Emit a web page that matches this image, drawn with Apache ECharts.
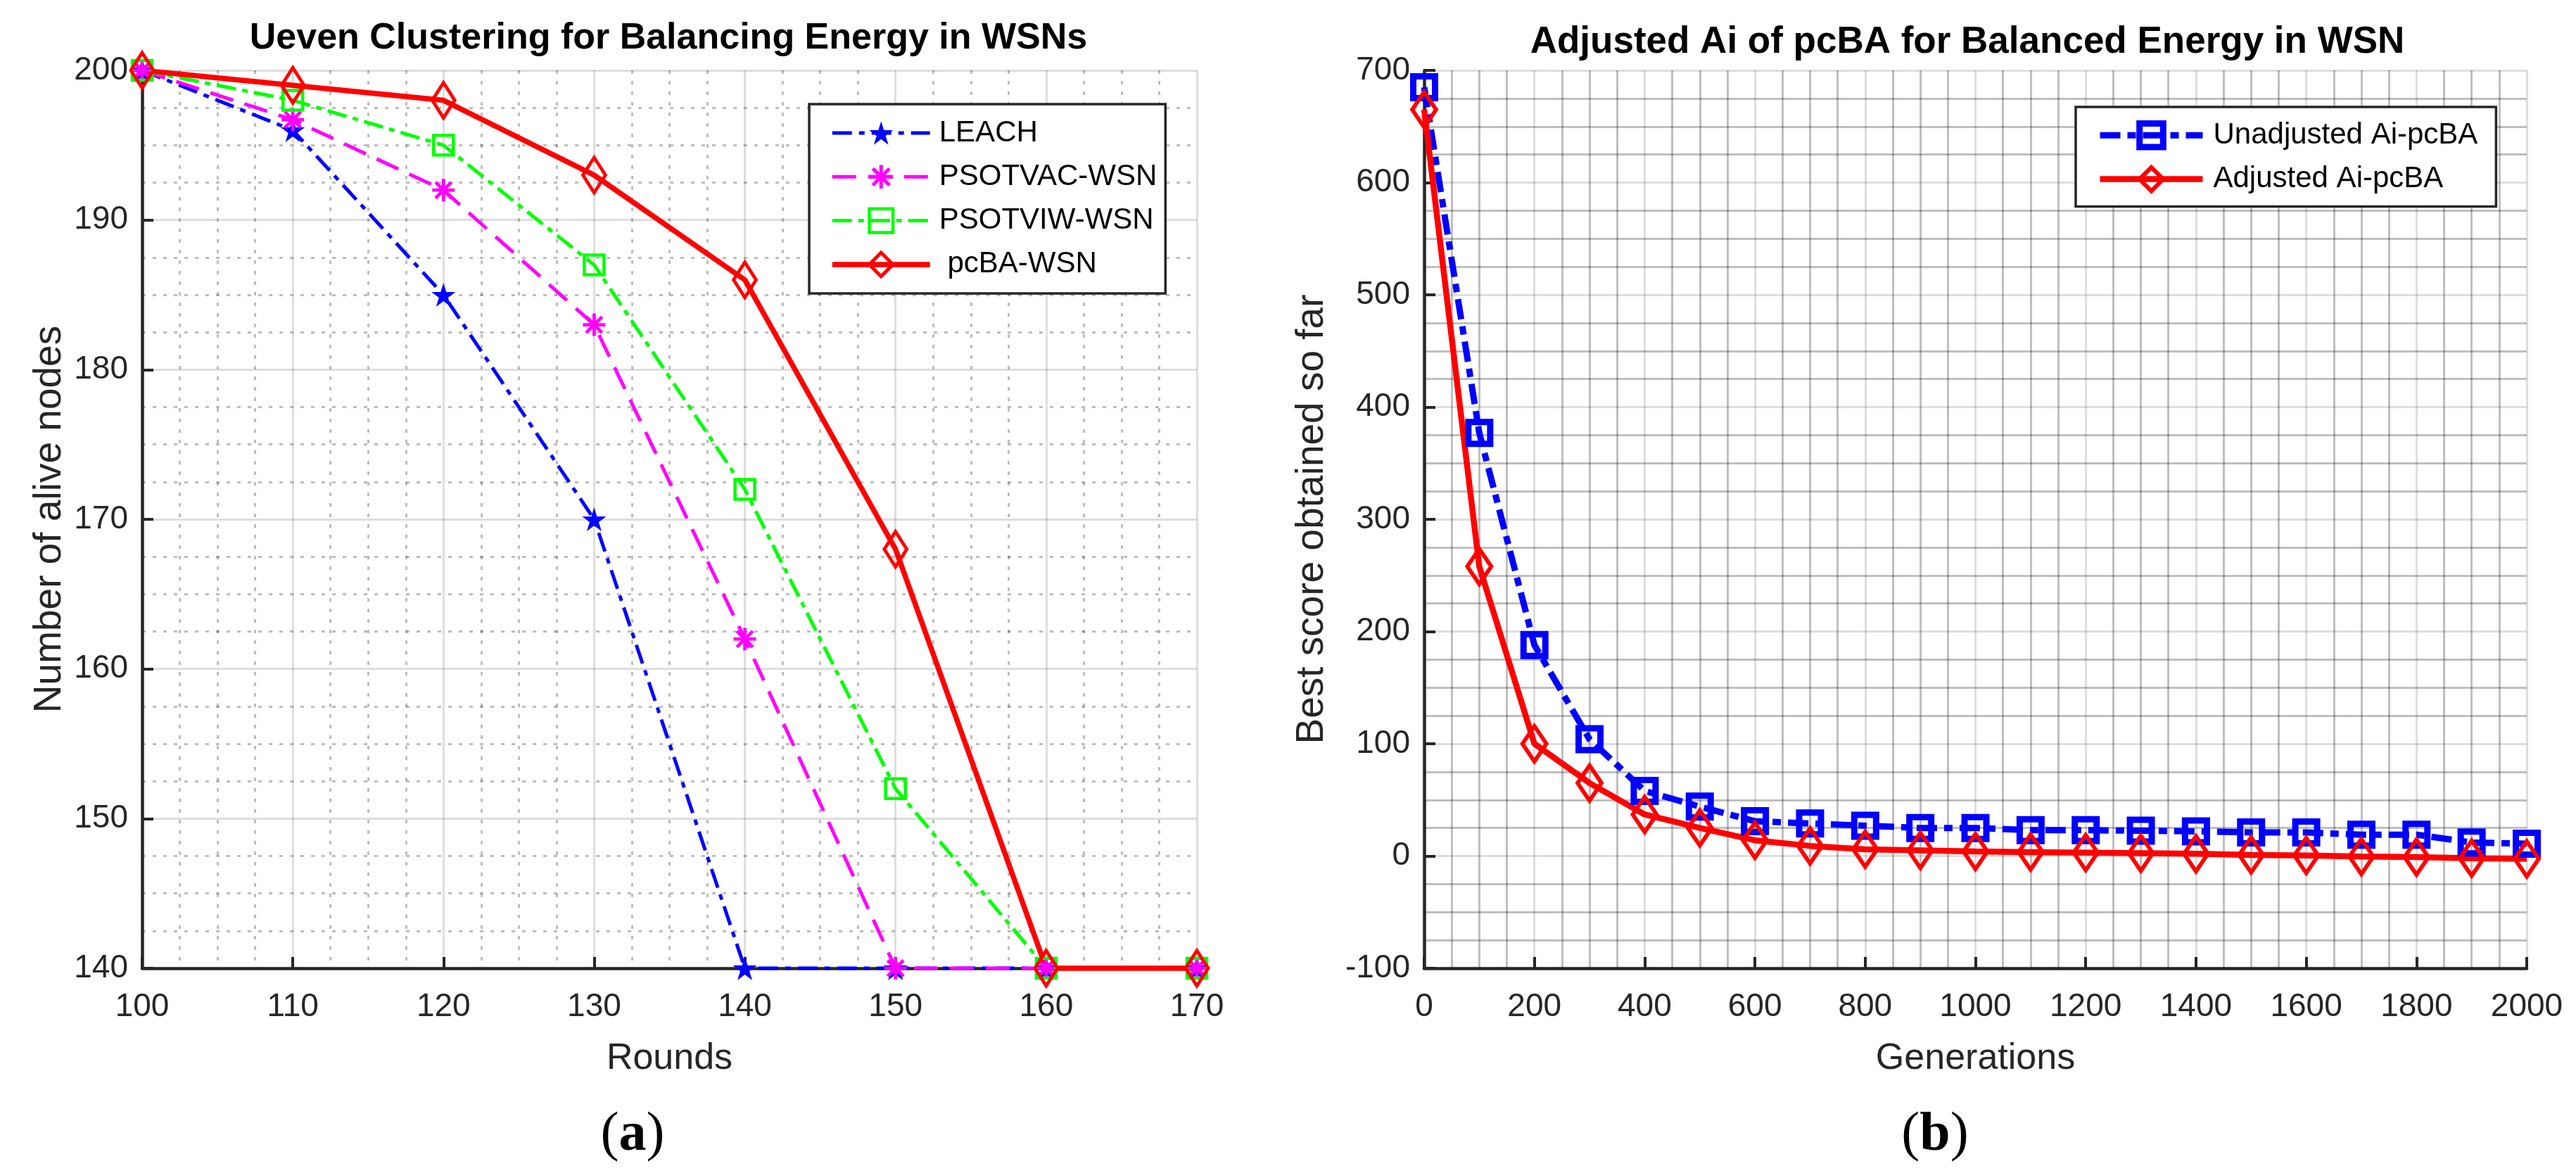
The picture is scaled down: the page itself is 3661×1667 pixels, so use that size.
<!DOCTYPE html>
<html><head><meta charset="utf-8">
<script src="https://cdn.jsdelivr.net/npm/echarts@6/dist/echarts.min.js"></script>
<style>html,body{margin:0;padding:0;background:#fff;}#c{width:3661px;height:1667px;}</style>
</head><body><div id="c"></div>
<script>
// ---- data (a) ----
const rounds = [100, 110, 120, 130, 140, 150, 160, 170];
const leach = [200, 196, 185, 170, 140, 140, 140, 140];
const psotvac = [200, 196.7, 192, 183, 162, 140, 140, 140];
const psotviw = [200, 198, 195, 187, 172, 152, 140, 140];
const pcba = [200, 199, 198, 193, 186, 168, 140, 140];
// ---- data (b) ----
const generations = [0, 100, 200, 300, 400, 500, 600, 700, 800, 900, 1000, 1100, 1200, 1300, 1400, 1500, 1600, 1700, 1800, 1900, 2000];
const unadjusted = [685, 377, 188, 104, 58, 44, 31, 29, 27, 25, 25, 23, 23, 22.5, 22, 21, 21, 19, 19, 12, 11];
const adjusted = [665, 258, 100, 65, 37, 25, 14, 9, 6, 5, 4, 3.5, 3, 2.5, 2, 1, 0.5, -0.5, -1, -2, -2.5];
// ---- texts ----
const titleA = 'Ueven Clustering for Balancing Energy in WSNs';
const titleB = 'Adjusted Ai of pcBA for Balanced Energy in WSN';
const namesA = ['LEACH', 'PSOTVAC-WSN', 'PSOTVIW-WSN', ' pcBA-WSN'];
const namesB = ['Unadjusted Ai-pcBA', 'Adjusted Ai-pcBA'];

const F = 'Liberation Sans, Arial, Helvetica, sans-serif';
const SERIF = 'Liberation Serif, Times New Roman, serif';
const AX = '#262626';
const STAR = 'path://M0,-1 L0.2245,-0.309 L0.9511,-0.309 L0.3633,0.118 L0.5878,0.809 L0,0.382 L-0.5878,0.809 L-0.3633,0.118 L-0.9511,-0.309 L-0.2245,-0.309 Z';
const AST = 'path://M1,0.15 L1,-0.15 L-1,-0.15 L-1,0.15 Z M-0.15,1 L0.15,1 L0.15,-1 L-0.15,-1 Z M0.6,0.812 L0.812,0.6 L-0.6,-0.812 L-0.812,-0.6 Z M-0.812,0.6 L-0.6,0.812 L0.812,-0.6 L0.6,-0.812 Z';
const NONE = 'rgba(0,0,0,0)';
const MAJOR = 'rgba(0,0,0,0.13)';
const MINOR_A = 'rgba(0,0,0,0.26)';
const MINOR_B = 'rgba(0,0,0,0.25)';

function axisCommon(major, minor, minorType) {
  return {
    axisLine: {show: true, onZero: false, lineStyle: {color: AX, width: 4.5}},
    axisTick: {show: true, inside: true, length: 16, lineStyle: {color: AX, width: 4}},
    splitLine: {show: true, lineStyle: {color: major, width: 3}},
    minorTick: {show: false, splitNumber: 4},
    minorSplitLine: {show: true, lineStyle: {color: minor, width: 3, type: minorType}},
    nameLocation: 'middle'
  };
}
function mk(base, extra) { return Object.assign({}, base, extra); }
const pair = (xs, ys) => xs.map((x, i) => [x, ys[i]]);
const plain = v => String(v);

const seriesA = [
  {name: namesA[0], data: pair(rounds, leach), symbol: STAR, symbolSize: 34, color: '#0000ff', lw: 5, dash: [28, 10, 8, 10], fill: '#0000ff', bw: 0},
  {name: namesA[1], data: pair(rounds, psotvac), symbol: AST, symbolSize: 32, color: '#ff00ff', lw: 5, dash: [34, 17], fill: '#ff00ff', bw: 0},
  {name: namesA[2], data: pair(rounds, psotviw), symbol: 'rect', symbolSize: 28, color: '#00ff00', lw: 5, dash: [28, 9, 8, 9], fill: NONE, bw: 4.5},
  {name: namesA[3], data: pair(rounds, pcba), symbol: 'diamond', symbolSize: [32, 50], color: '#ff0000', lw: 7.5, dash: 'solid', fill: NONE, bw: 5}
];
const seriesB = [
  {name: namesB[0], data: pair(generations, unadjusted), symbol: 'rect', symbolSize: 31, color: '#0000ff', lw: 9, dash: [29, 10, 12, 10], fill: NONE, bw: 9},
  {name: namesB[1], data: pair(generations, adjusted), symbol: 'diamond', symbolSize: [34, 50], color: '#ff0000', lw: 8.5, dash: 'solid', fill: NONE, bw: 6}
];

function toSeries(s, idx) {
  return {
    name: s.name, type: 'line', xAxisIndex: idx, yAxisIndex: idx, data: s.data,
    symbol: s.symbol, symbolSize: s.symbolSize, showAllSymbol: true, clip: false,
    lineStyle: {color: s.color, width: s.lw, type: s.dash},
    itemStyle: {color: s.fill, borderColor: s.color, borderWidth: s.bw},
    emphasis: {disabled: true}, z: 3
  };
}
function legendItem(s) {
  return {name: s.name,
    lineStyle: {color: s.color, width: s.lw, type: s.dash},
    itemStyle: {color: s.fill, borderColor: s.color, borderWidth: s.bw}};
}
const tickText = {fontSize: 46, color: AX, fontFamily: F};

const option = {
  animation: false,
  backgroundColor: '#fff',
  title: [
    {text: titleA, left: 950, top: 29, textAlign: 'center', padding: 0,
     textStyle: {fontSize: 52, fontWeight: 'bold', color: '#000', fontFamily: F}},
    {text: titleB, left: 2796, top: 34, textAlign: 'center', padding: 0,
     textStyle: {fontSize: 53, fontWeight: 'bold', color: '#000', fontFamily: F}}
  ],
  grid: [
    {left: 202, top: 100, width: 1499, height: 1276, outerBoundsMode: 'none', containLabel: false},
    {left: 2024, top: 100, width: 1567, height: 1276, outerBoundsMode: 'none', containLabel: false}
  ],
  xAxis: [
    mk(axisCommon(MAJOR, MINOR_A, [5, 10]), {gridIndex: 0, type: 'value', min: 100, max: 170, interval: 10,
      name: 'Rounds', nameGap: 103, nameTextStyle: {color: AX, fontFamily: F, fontSize: 52},
      axisLabel: Object.assign({margin: 32, formatter: plain}, tickText)}),
    mk(axisCommon(MAJOR, MINOR_B, 'solid'), {gridIndex: 1, type: 'value', min: 0, max: 2000, interval: 200,
      name: 'Generations', nameGap: 103, nameTextStyle: {color: AX, fontFamily: F, fontSize: 52},
      axisLabel: Object.assign({margin: 32, formatter: plain}, tickText)})
  ],
  yAxis: [
    mk(axisCommon(MAJOR, MINOR_A, [5, 10]), {gridIndex: 0, type: 'value', min: 140, max: 200, interval: 10,
      name: 'Number of alive nodes', nameGap: 104, nameTextStyle: {color: AX, fontFamily: F, fontSize: 55},
      axisLabel: Object.assign({margin: 20, formatter: plain}, tickText)}),
    mk(axisCommon(MAJOR, MINOR_B, 'solid'), {gridIndex: 1, type: 'value', min: -100, max: 700, interval: 100,
      name: 'Best score obtained so far', nameGap: 132, nameTextStyle: {color: AX, fontFamily: F, fontSize: 55},
      axisLabel: Object.assign({margin: 20, formatter: plain}, tickText)})
  ],
  legend: [
    {data: seriesA.map(legendItem), orient: 'vertical', left: 1150, top: 148,
     itemWidth: 139, itemHeight: 42, itemGap: 20.3, padding: [20, 12, 20, 29],
     borderColor: AX, borderWidth: 3.5, backgroundColor: '#fff', selectedMode: false,
     textStyle: {fontSize: 42, color: '#000', fontFamily: F, padding: [0, 0, 0, 8]}},
    {data: seriesB.map(legendItem), orient: 'vertical', left: 2950, top: 152,
     itemWidth: 146, itemHeight: 42, itemGap: 20, padding: [19, 26, 18, 30],
     borderColor: AX, borderWidth: 3.5, backgroundColor: '#fff', selectedMode: false,
     textStyle: {fontSize: 42, color: '#000', fontFamily: F, padding: [0, 0, 0, 10]}}
  ],
  graphic: [
    {type: 'text', x: 899, y: 1614, style: {text: '{p|(}{b|a}{p|)}', align: 'center', verticalAlign: 'middle',
      rich: {p: {fontSize: 78, fontFamily: SERIF, fill: '#000'},
             b: {fontSize: 78, fontWeight: 'bold', fontFamily: SERIF, fill: '#000'}}}},
    {type: 'text', x: 2750, y: 1614, style: {text: '{p|(}{b|b}{p|)}', align: 'center', verticalAlign: 'middle',
      rich: {p: {fontSize: 78, fontFamily: SERIF, fill: '#000'},
             b: {fontSize: 78, fontWeight: 'bold', fontFamily: SERIF, fill: '#000'}}}}
  ],
  series: seriesA.map(s => toSeries(s, 0)).concat(seriesB.map(s => toSeries(s, 1)))
};

const chart = echarts.init(document.getElementById('c'), null, {renderer: 'canvas', width: 3661, height: 1667, devicePixelRatio: 1});
chart.setOption(option);
</script>
</body></html>
